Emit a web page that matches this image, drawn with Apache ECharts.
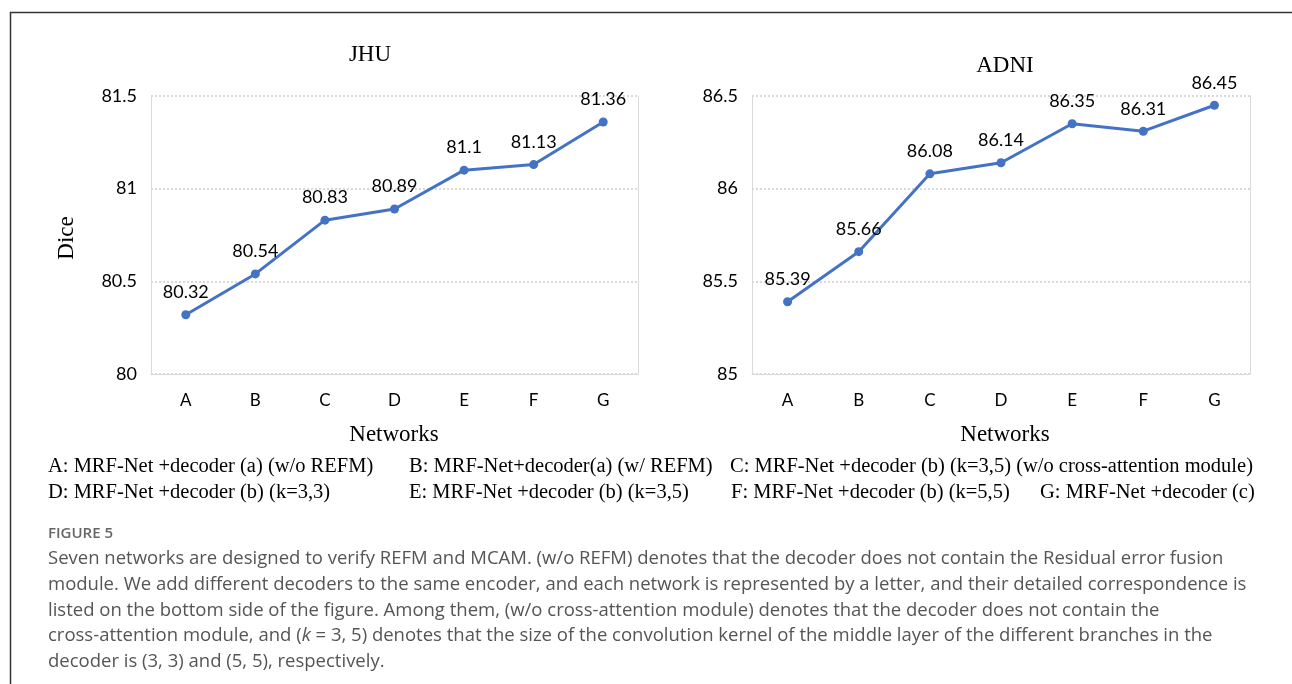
<!DOCTYPE html>
<html><head><meta charset="utf-8">
<script src="https://cdn.jsdelivr.net/npm/echarts@6/dist/echarts.min.js"></script>
<style>html,body{margin:0;padding:0;background:#fff}#c{width:1292px;height:684px}</style>
</head><body><div id="c"></div>
<script>
const categories = ['A','B','C','D','E','F','G'];
const jhuValues = [80.32, 80.54, 80.83, 80.89, 81.1, 81.13, 81.36];
const adniValues = [85.39, 85.66, 86.08, 86.14, 86.35, 86.31, 86.45];
const jhuTicks = {min: 80, max: 81.5, interval: 0.5};
const adniTicks = {min: 85, max: 86.5, interval: 0.5};
const legendRow1 = ['A: MRF-Net +decoder (a) (w/o REFM)', 'B: MRF-Net+decoder(a) (w/ REFM)', 'C: MRF-Net +decoder (b) (k=3,5) (w/o cross-attention module)'];
const legendRow2 = ['D: MRF-Net +decoder (b) (k=3,3)', 'E: MRF-Net +decoder (b) (k=3,5)', 'F: MRF-Net +decoder (b) (k=5,5)', 'G: MRF-Net +decoder (c)'];
const captionLines = [
  'Seven networks are designed to verify REFM and MCAM. (w/o REFM) denotes that the decoder does not contain the Residual error fusion',
  'module. We add different decoders to the same encoder, and each network is represented by a letter, and their detailed correspondence is',
  'listed on the bottom side of the figure. Among them, (w/o cross-attention module) denotes that the decoder does not contain the',
  null,
  'decoder is (3, 3) and (5, 5), respectively.'
];

const chart = echarts.init(document.getElementById('c'));
const numFont = 'Lato';
const serif = '"Liberation Serif", "DejaVu Serif", serif';
const blue = '#4472C4';
const light = '#d9d9d9';

function yAx(idx, t, showLabel, pos) {
  return {
    type: 'value', gridIndex: idx, min: t.min, max: t.max, interval: t.interval, position: pos,
    axisLine: {show: true, lineStyle: {color: light, width: 1}},
    axisTick: {show: false},
    axisLabel: {show: showLabel, color: '#000', fontFamily: numFont, fontSize: 18, margin: 14},
    splitLine: {show: showLabel, lineStyle: {color: light, type: [2, 2], width: 2}}
  };
}
function xAx(idx) {
  return {
    type: 'category', gridIndex: idx, data: categories, boundaryGap: true,
    axisLine: {show: true, lineStyle: {color: light, width: 1}},
    axisTick: {show: false},
    axisLabel: {color: '#000', fontFamily: numFont, fontSize: 17, margin: 18}
  };
}
function ser(xi, yi, data) {
  return {
    type: 'line', xAxisIndex: xi, yAxisIndex: yi, data: data,
    lineStyle: {color: blue, width: 3}, itemStyle: {color: blue},
    symbol: 'circle', symbolSize: 9, animation: false,
    label: {show: true, position: 'top', distance: 9, color: '#000', fontFamily: numFont, fontSize: 18}
  };
}

const gText = [];
function txt(x, y, s, opt) {
  gText.push(Object.assign({type: 'text', x: x, y: y, silent: true,
    style: Object.assign({text: s, fill: '#000', font: '23px ' + serif, textAlign: 'left', textVerticalAlign: 'middle'}, opt || {})}));
}
txt(370, 55, 'JHU', {textAlign: 'center'});
txt(1005, 66, 'ADNI', {textAlign: 'center'});
txt(394, 435, 'Networks', {textAlign: 'center'});
txt(1005, 435, 'Networks', {textAlign: 'center'});
gText.push({type: 'text', x: 67, y: 238, rotation: Math.PI / 2, silent: true,
  style: {text: 'Dice', fill: '#000', font: '23px ' + serif, textAlign: 'center', textVerticalAlign: 'middle'}});
const row1X = [48, 409, 730];
const row2X = [48, 409, 731, 1040];
legendRow1.forEach((s, i) => txt(row1X[i], 467, s, {font: '20.5px ' + serif}));
legendRow2.forEach((s, i) => txt(row2X[i], 493, s, {font: '20.5px ' + serif}));
txt(48, 534, 'FIGURE 5', {font: '600 15px "Open Sans"', fill: '#666'});
const capFont = '18.5px "Open Sans"';
const capColor = '#555';
const capY = [559, 585, 611, 636, 662];
captionLines.forEach((s, i) => {
  if (s) txt(48, capY[i], s, {font: capFont, fill: capColor});
});
gText.push({type: 'text', x: 48, y: capY[3], silent: true, style: {
  text: 'cross-attention module, and ({i|k} = 3, 5) denotes that the size of the convolution kernel of the middle layer of the different branches in the',
  font: capFont, fill: capColor, textVerticalAlign: 'middle',
  rich: {i: {fontStyle: 'italic', fontFamily: 'Open Sans', fontSize: 18.5, fill: capColor}}
}});
gText.push({type: 'polyline', silent: true, shape: {points: [[10.5, 684], [10.5, 12.5], [1292, 12.5]]},
  style: {stroke: '#333', lineWidth: 1.5, fill: null}});

chart.setOption({
  animation: false,
  grid: [
    {left: 151, right: 654, top: 96, height: 278},
    {left: 752, right: 42, top: 96, height: 278}
  ],
  xAxis: [xAx(0), xAx(1)],
  yAxis: [yAx(0, jhuTicks, true, 'left'), yAx(1, adniTicks, true, 'left'),
          yAx(0, jhuTicks, false, 'right'), yAx(1, adniTicks, false, 'right')],
  series: [ser(0, 0, jhuValues), ser(1, 1, adniValues)],
  graphic: gText
});
</script></body></html>
